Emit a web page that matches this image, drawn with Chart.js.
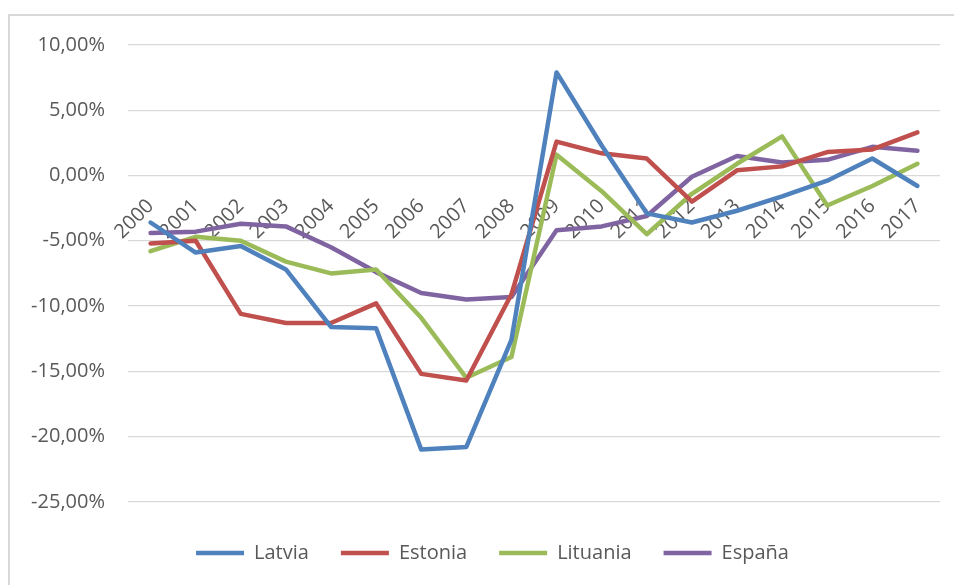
<!DOCTYPE html>
<html>
<head>
<meta charset="utf-8">
<script src="https://cdn.jsdelivr.net/npm/chart.js@4.4.1/dist/chart.umd.min.js"></script>
<style>
  html, body { margin: 0; padding: 0; background: #fff; overflow: hidden; }
  #frame {
    position: absolute; left: 8px; top: 14px;
    width: 2000px; height: 2000px;
    border: 2px solid #d9d9d9;
  }
  #chart { position: absolute; left: 0; top: 0; }
</style>
</head>
<body>
<div id="frame"></div>
<canvas id="chart" width="954" height="585"></canvas>
<script>
// years on the category axis
const years = ['2000', '2001', '2002', '2003', '2004', '2005', '2006', '2007', '2008',
               '2009', '2010', '2011', '2012', '2013', '2014', '2015', '2016', '2017'];

// values in percent
const latvia   = [-3.6, -5.9, -5.4, -7.2, -11.6, -11.7, -21.0, -20.8, -12.6,
                   7.9, 2.3, -2.9, -3.6, -2.7, -1.6, -0.4, 1.3, -0.8];
const estonia  = [-5.2, -5.0, -10.6, -11.3, -11.3, -9.8, -15.2, -15.7, -9.1,
                   2.6, 1.7, 1.3, -2.0, 0.4, 0.7, 1.8, 2.0, 3.3];
const lituania = [-5.8, -4.7, -5.0, -6.6, -7.5, -7.2, -10.9, -15.5, -13.9,
                   1.6, -1.2, -4.5, -1.4, 0.9, 3.0, -2.3, -0.8, 0.9];
const espana   = [-4.4, -4.3, -3.7, -3.9, -5.5, -7.4, -9.0, -9.5, -9.3,
                   -4.2, -3.9, -3.1, -0.1, 1.5, 1.0, 1.2, 2.2, 1.9];

const seriesNames = ['Latvia', 'Estonia', 'Lituania', 'España'];
const seriesColors = ['#4f81bd', '#c0504d', '#9bbb59', '#8064a2'];

// y ticks
const yMin = -25;
const yMax = 10;
const yStep = 5;

const textColor = '#595959';
const gridColor = '#d9d9d9';
Chart.defaults.font.family = '"Open Sans", sans-serif';
Chart.defaults.font.size = 20;
Chart.defaults.color = textColor;

const seriesData = [latvia, estonia, lituania, espana];

const datasets = seriesNames.map((name, i) => ({
    label: name,
    data: seriesData[i],
    borderColor: seriesColors[i],
    backgroundColor: seriesColors[i],
    borderWidth: 4.5,
    borderCapStyle: 'round',
    borderJoinStyle: 'round',
    pointRadius: 0,
    pointHoverRadius: 0,
    pointStyle: 'line',
    tension: 0,
    fill: false
}));

function fmtPct(v) {
    return v.toFixed(2).replace('.', ',') + '%';
}

// the legend sits a little right of the canvas centre in the original
const legendShift = {
    id: 'legendShift',
    afterLayout(chart) {
        if (chart.legend) chart.legend.left += 45;
    }
};

new Chart(document.getElementById('chart'), {
    type: 'line',
    data: { labels: years, datasets: datasets },
    plugins: [legendShift],
    options: {
        responsive: false,
        animation: false,
        layout: { padding: { left: 0, right: 14, top: 45, bottom: 12 } },
        scales: {
            x: {
                position: { y: 0 },
                offset: true,
                grid: { display: false, drawTicks: false },
                border: { display: false },
                ticks: {
                    minRotation: 45,
                    maxRotation: 45,
                    autoSkip: false,
                    padding: 19,
                    color: textColor
                }
            },
            y: {
                min: yMin,
                max: yMax,
                afterFit: (scale) => { scale.width = 128; },
                grid: { color: gridColor, lineWidth: 1.3, drawTicks: false },
                border: { display: false },
                ticks: {
                    stepSize: yStep,
                    padding: 23,
                    color: textColor,
                    callback: (v) => fmtPct(v)
                }
            }
        },
        plugins: {
            tooltip: { enabled: false },
            legend: {
                position: 'bottom',
                title: { display: true, text: '', padding: { top: 8, bottom: 0 }, font: { size: 1 } },
                labels: {
                    usePointStyle: true,
                    pointStyleWidth: 48,
                    padding: 32,
                    color: textColor
                }
            }
        }
    }
});
</script>
</body>
</html>
